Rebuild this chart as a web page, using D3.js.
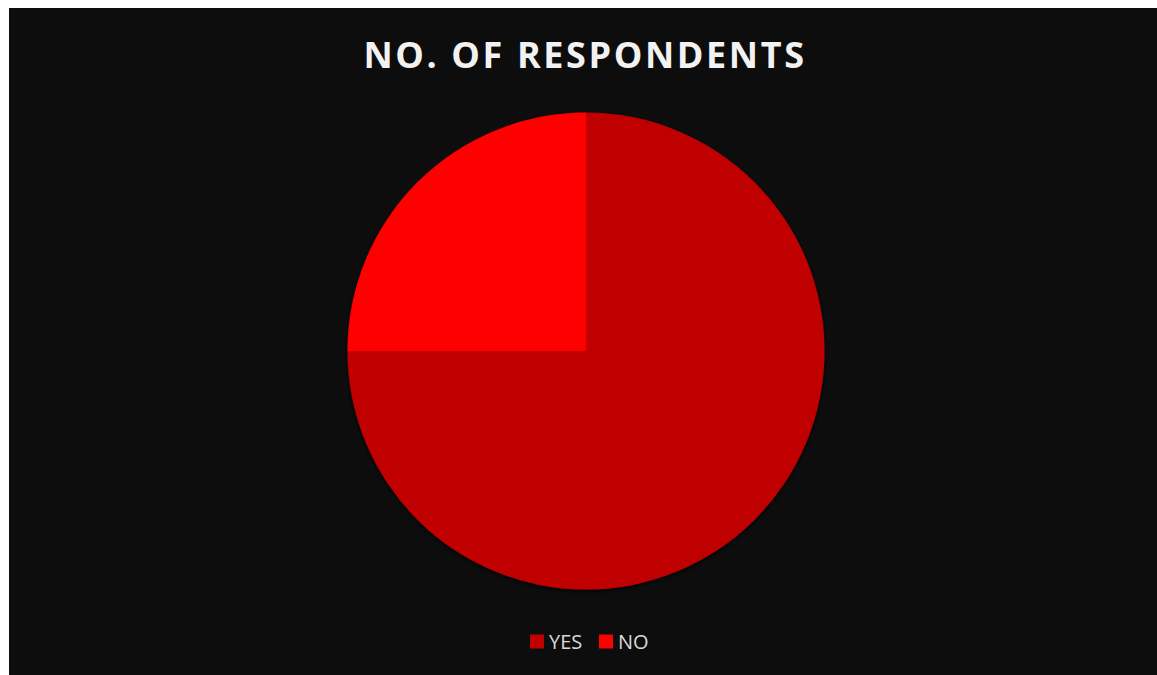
<!DOCTYPE html>
<html>
<head>
<meta charset="utf-8">
<script src="https://cdn.jsdelivr.net/npm/d3@7"></script>
<style>
  html, body { margin: 0; padding: 0; background: #ffffff; }
  svg { display: block; }
</style>
</head>
<body>
<svg id="chart" width="1157" height="675"></svg>
<script>
// Survey answers
const categories = ["YES", "NO"];
const respondents = [75, 25];
const sliceColors = ["#c00000", "#ff0000"];
const titleText = "NO. OF RESPONDENTS";

const svg = d3.select("#chart");
const W = 1157, H = 675;

// dark chart area
svg.append("rect")
  .attr("x", 9).attr("y", 8)
  .attr("width", W - 9).attr("height", H - 8)
  .attr("fill", "#0d0d0d");

// soft shadow under the pie
const defs = svg.append("defs");
const f = defs.append("filter").attr("id", "shadow")
  .attr("x", "-10%").attr("y", "-10%").attr("width", "120%").attr("height", "120%");
f.append("feDropShadow").attr("dx", 0).attr("dy", 2).attr("stdDeviation", 2)
  .attr("flood-color", "#000").attr("flood-opacity", 0.8);

// title
svg.append("text")
  .attr("x", 585).attr("y", 68)
  .attr("text-anchor", "middle")
  .attr("font-family", "'Open Sans', sans-serif")
  .attr("font-weight", 700)
  .attr("font-size", 36)
  .attr("fill", "#f2f2f2")
  .attr("letter-spacing", 2.6)
  .text(titleText);

// pie
const cx = 586, cy = 351, r = 238.5;
const color = d3.scaleOrdinal().domain(categories).range(sliceColors);
const pie = d3.pie().sort(null).value(d => d.value);
const arc = d3.arc().innerRadius(0).outerRadius(r);
const data = categories.map((c, i) => ({ name: c, value: respondents[i] }));

const g = svg.append("g")
  .attr("transform", `translate(${cx},${cy})`)
  .attr("filter", "url(#shadow)");
g.selectAll("path")
  .data(pie(data))
  .join("path")
  .attr("d", arc)
  .attr("fill", d => color(d.data.name));

// legend
const legendY = 641.5;
const legendItems = [
  { name: "YES", sx: 530, tx: 549 },
  { name: "NO", sx: 599, tx: 618 }
];
const lg = svg.append("g");
legendItems.forEach(it => {
  lg.append("rect")
    .attr("x", it.sx).attr("y", legendY - 7)
    .attr("width", 14).attr("height", 14)
    .attr("fill", color(it.name));
  lg.append("text")
    .attr("x", it.tx).attr("y", legendY)
    .attr("dy", "0.36em")
    .attr("font-family", "'Open Sans', sans-serif")
    .attr("font-size", 20)
    .attr("fill", "#d9d9d9")
    .text(it.name);
});
</script>
</body>
</html>
